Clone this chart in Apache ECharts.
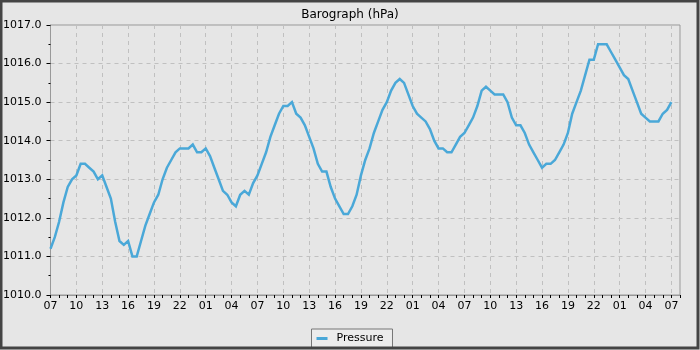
<!DOCTYPE html>
<html>
<head>
<meta charset="utf-8">
<script src="https://cdn.jsdelivr.net/npm/echarts@6/dist/echarts.min.js"></script>
<style>
html,body{margin:0;padding:0;background:#e6e6e6;}
#chart{width:700px;height:350px;}
</style>
</head>
<body>
<div id="chart"></div>
<script>
// Hours since 07:00 on day 1, one reading every half hour
const stepHours = 0.5;
const pressure = [
  1011.2,1011.5,1011.9,1012.4,1012.8,1013.0,1013.1,1013.4,1013.4,1013.3,1013.2,1013.0,
  1013.1,1012.8,1012.5,1011.9,1011.4,1011.3,1011.4,1011.0,1011.0,1011.4,1011.8,1012.1,
  1012.4,1012.6,1013.0,1013.3,1013.5,1013.7,1013.8,1013.8,1013.8,1013.9,1013.7,1013.7,
  1013.8,1013.6,1013.3,1013.0,1012.7,1012.6,1012.4,1012.3,1012.6,1012.7,1012.6,1012.9,
  1013.1,1013.4,1013.7,1014.1,1014.4,1014.7,1014.9,1014.9,1015.0,1014.7,1014.6,1014.4,
  1014.1,1013.8,1013.4,1013.2,1013.2,1012.8,1012.5,1012.3,1012.1,1012.1,1012.3,1012.6,
  1013.1,1013.5,1013.8,1014.2,1014.5,1014.8,1015.0,1015.3,1015.5,1015.6,1015.5,1015.2,
  1014.9,1014.7,1014.6,1014.5,1014.3,1014.0,1013.8,1013.8,1013.7,1013.7,1013.9,1014.1,
  1014.2,1014.4,1014.6,1014.9,1015.3,1015.4,1015.3,1015.2,1015.2,1015.2,1015.0,1014.6,
  1014.4,1014.4,1014.2,1013.9,1013.7,1013.5,1013.3,1013.4,1013.4,1013.5,1013.7,1013.9,
  1014.2,1014.7,1015.0,1015.3,1015.7,1016.1,1016.1,1016.5,1016.5,1016.5,1016.3,1016.1,
  1015.9,1015.7,1015.6,1015.3,1015.0,1014.7,1014.6,1014.5,1014.5,1014.5,1014.7,1014.8,
  1015.0
];
const xTickLabels = ['07','10','13','16','19','22','01','04','07','10','13','16','19','22',
                     '01','04','07','10','13','16','19','22','01','04','07'];
const yTicks = ['1010.0','1011.0','1012.0','1013.0','1014.0','1015.0','1016.0','1017.0'];

const seriesData = pressure.map((v, i) => [i * stepHours, v]);

const chart = echarts.init(document.getElementById('chart'), null, {renderer: 'canvas'});
const font = 'DejaVu Sans';
chart.setOption({
  animation: false,
  backgroundColor: '#e6e6e6',
  title: {
    text: 'Barograph (hPa)',
    left: 'center',
    top: 4,
    textStyle: {fontFamily: font, fontSize: 12, fontWeight: 'normal', color: '#000'}
  },
  grid: {
    left: 50, right: 20, top: 25, bottom: 55,
    show: true, borderColor: '#999', borderWidth: 1, backgroundColor: '#e6e6e6'
  },
  legend: {
    data: ['Pressure'],
    left: 'center',
    top: 329,
    icon: 'rect',
    itemWidth: 11,
    itemHeight: 3,
    padding: [4, 9, 4, 5],
    backgroundColor: '#ececec',
    borderColor: '#777',
    borderWidth: 1,
    borderRadius: 0,
    textStyle: {fontFamily: font, fontSize: 11, color: '#000', padding: [0, 0, 0, 4]}
  },
  xAxis: {
    type: 'value',
    min: 0,
    max: 73,
    interval: 3,
    axisLine: {show: true, lineStyle: {color: '#999'}},
    axisTick: {show: true, length: 3, lineStyle: {color: '#000'}},
    minorTick: {show: true, splitNumber: 3, length: 3, lineStyle: {color: '#000'}},
    axisLabel: {
      fontFamily: font, fontSize: 11, color: '#000', margin: 6,
      formatter: v => (v % 3 === 0 ? xTickLabels[v / 3] : '')
    },
    splitLine: {show: true, lineStyle: {color: '#c0c0c0', type: [4, 4], width: 1}}
  },
  yAxis: {
    type: 'value',
    min: 1010,
    max: 1017,
    interval: 1,
    axisLine: {show: true, lineStyle: {color: '#999'}},
    axisTick: {show: true, length: 4, lineStyle: {color: '#000'}},
    minorTick: {show: true, splitNumber: 2, length: 2, lineStyle: {color: '#000'}},
    axisLabel: {
      fontFamily: font, fontSize: 11, color: '#000', margin: 9,
      formatter: v => yTicks[Math.round(v - 1010)]
    },
    splitLine: {show: true, lineStyle: {color: '#c0c0c0', type: [4, 4], width: 1}}
  },
  graphic: [{
    type: 'rect',
    silent: true,
    z: 100,
    shape: {x: 1, y: 1, width: 697, height: 347},
    style: {fill: null, stroke: '#444', lineWidth: 3}
  }],
  series: [{
    name: 'Pressure',
    type: 'line',
    data: seriesData,
    symbol: 'none',
    lineStyle: {color: '#4aa8d8', width: 2.5, join: 'miter'},
    itemStyle: {color: '#4aa8d8'}
  }]
});
</script>
</body>
</html>
